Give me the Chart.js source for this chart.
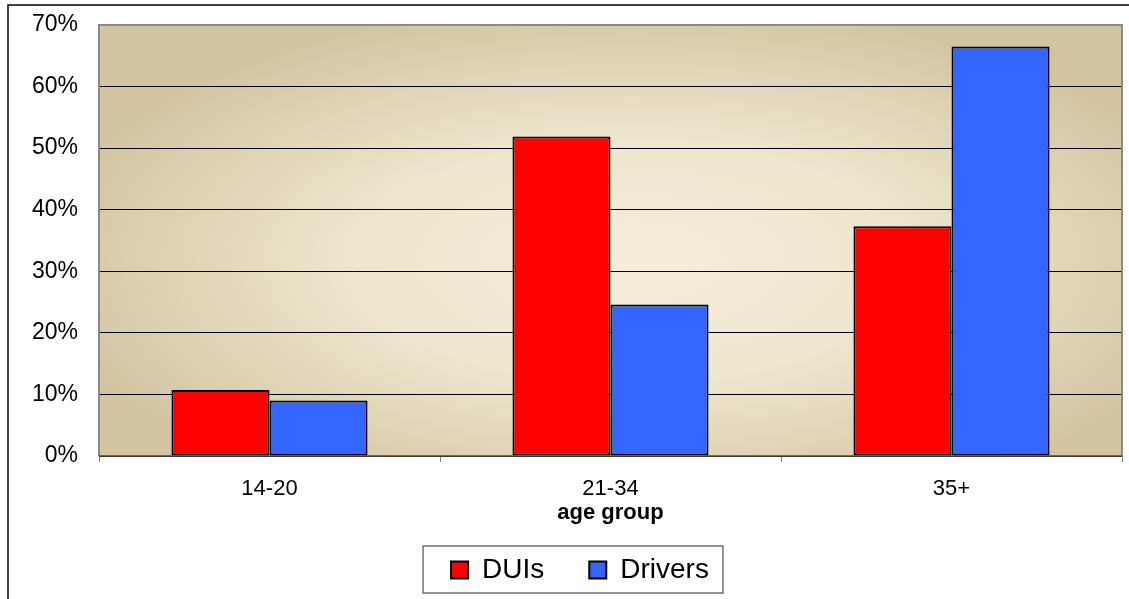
<!DOCTYPE html>
<html lang="en">
<head>
    <meta charset="UTF-8">
    <title>DUIs vs Drivers by age group</title>
    <script src="https://cdn.jsdelivr.net/npm/chart.js"></script>
    <style>
        body {
            margin: 0;
            background: #ffffff;
        }
        canvas {
            display: block;
        }
    </style>
</head>
<body>
    <canvas id="ageChart" width="1129" height="599"></canvas>

    <script>
        const ageGroups = ["14-20", "21-34", "35+"];
        const duiShare = [10.7, 51.9, 37.3];
        const driverShare = [9.0, 24.6, 66.5];
        const yTicks = [0, 10, 20, 30, 40, 50, 60, 70];

        const FONT = "'Liberation Sans', Arial, sans-serif";

        // outer frame, plot background gradient, plot border, legend box
        const excelLook = {
            id: "excelLook",
            afterLayout(chart) {
                const lg = chart.legend;
                lg.left += 19;
                lg.right += 19;
                lg.top -= 48;
                lg.bottom = lg.top + 90;
                lg.height = 90;
            },
            beforeDraw(chart) {
                const ctx = chart.ctx;
                const a = chart.chartArea;
                ctx.save();
                ctx.fillStyle = "#ffffff";
                ctx.fillRect(0, 0, chart.width, chart.height);
                ctx.strokeStyle = "#000000";
                ctx.lineWidth = 1.5;
                ctx.strokeRect(8, 5, 1300, 800);

                // soft radial fill
                const cx = a.left + a.width * 0.52, cy = a.top + a.height * 0.55;
                const sx = a.width / a.height * 0.95;
                ctx.translate(cx, cy);
                ctx.scale(sx, 1);
                const g = ctx.createRadialGradient(0, 0, 0, 0, 0, a.height * 0.62);
                g.addColorStop(0, "#f6eedb");
                g.addColorStop(0.45, "#efe6cf");
                g.addColorStop(1, "#d2c4a0");
                ctx.fillStyle = g;
                ctx.fillRect((a.left - cx) / sx, a.top - cy, a.width / sx, a.height);
                ctx.restore();
            },
            afterDatasetsDraw(chart) {
                const ctx = chart.ctx;
                const a = chart.chartArea;
                ctx.save();
                ctx.strokeStyle = "#8a8a8a";
                ctx.lineWidth = 2;
                ctx.beginPath();
                ctx.moveTo(a.left, a.bottom);
                ctx.lineTo(a.left, a.top);
                ctx.lineTo(a.right, a.top);
                ctx.lineTo(a.right, a.bottom);
                ctx.stroke();
                ctx.strokeStyle = "#4a4a4a";
                ctx.lineWidth = 1.5;
                ctx.beginPath();
                ctx.moveTo(a.left, a.bottom);
                ctx.lineTo(a.right, a.bottom);
                ctx.stroke();
                ctx.restore();
            },
            afterDraw(chart) {
                const boxes = chart.legend.legendHitBoxes;
                if (!boxes || !boxes.length) return;
                const first = boxes[0], last = boxes[boxes.length - 1];
                const ctx = chart.ctx;
                ctx.save();
                ctx.strokeStyle = "#707070";
                ctx.lineWidth = 1.5;
                const left = first.left - 28;
                const right = last.left + last.width + 14;
                const top = first.top - 10;
                ctx.strokeRect(left, top, right - left, 47);
                ctx.restore();
            }
        };

        new Chart(document.getElementById("ageChart"), {
            type: "bar",
            data: {
                labels: ageGroups,
                datasets: [
                    {
                        label: "DUIs",
                        data: duiShare,
                        backgroundColor: "#ff0000",
                        borderColor: "#000000",
                        borderWidth: 2,
                        borderSkipped: false
                    },
                    {
                        label: "Drivers",
                        data: driverShare,
                        backgroundColor: "#3366ff",
                        borderColor: "#000000",
                        borderWidth: 2,
                        borderSkipped: false
                    }
                ]
            },
            options: {
                responsive: false,
                animation: false,
                layout: {
                    padding: { top: 25, right: 7, left: 0, bottom: 0 }
                },
                datasets: {
                    bar: { categoryPercentage: 0.575, barPercentage: 1.0 }
                },
                scales: {
                    x: {
                        grid: {
                            offset: true,
                            drawOnChartArea: false,
                            drawTicks: true,
                            tickLength: 6,
                            color: "#808080"
                        },
                        border: { display: false },
                        ticks: {
                            color: "#000000",
                            padding: 14,
                            font: { family: FONT, size: 22 }
                        },
                        title: {
                            display: true,
                            text: "age group",
                            color: "#000000",
                            padding: { top: 0, bottom: 33 },
                            font: { family: FONT, size: 22, weight: "bold" }
                        },
                        afterFit(scale) {
                            scale.height = 103;
                        }
                    },
                    y: {
                        min: 0,
                        max: 70,
                        grid: {
                            color: "#000000",
                            lineWidth: 1,
                            drawTicks: true,
                            tickLength: 21,
                            tickColor: "rgba(0,0,0,0)"
                        },
                        border: { display: false },
                        afterBuildTicks(scale) {
                            scale.ticks = yTicks.map(v => ({ value: v }));
                        },
                        ticks: {
                            color: "#000000",
                            padding: 0,
                            font: { family: FONT, size: 23 },
                            callback: v => v + "%"
                        },
                        afterFit(scale) {
                            scale.width = 99;
                        }
                    }
                },
                plugins: {
                    tooltip: { enabled: false },
                    legend: {
                        position: "bottom",
                        maxHeight: 40,
                        labels: {
                            color: "#000000",
                            boxWidth: 17,
                            boxHeight: 17,
                            padding: 45,
                            font: { family: FONT, size: 28 }
                        }
                    }
                }
            },
            plugins: [excelLook]
        });
    </script>
</body>
</html>
